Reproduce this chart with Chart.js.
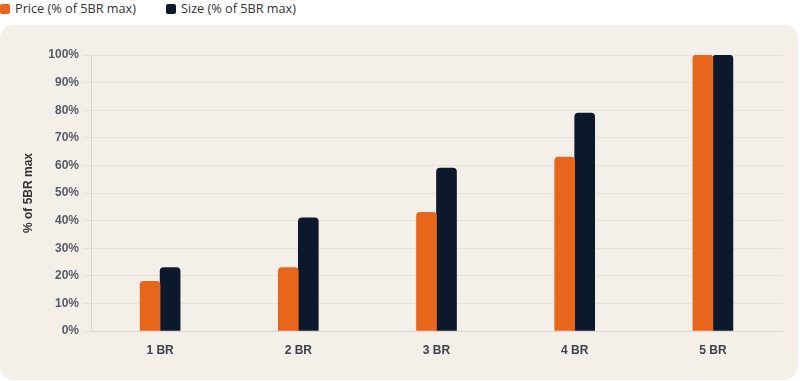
<!DOCTYPE html>
<html lang="en">

<head>
    <meta charset="UTF-8">
    <title>Price vs Size by bedrooms</title>
    <script src="https://cdn.jsdelivr.net/npm/chart.js"></script>
    <style>
        body {
            margin: 0;
            background: #ffffff;
            width: 800px;
            height: 381px;
            overflow: hidden;
            font-family: "Open Sans", sans-serif;
        }

        .legend {
            height: 25px;
            display: flex;
            align-items: flex-start;
        }

        .legend-item {
            display: flex;
            align-items: center;
            font-size: 12.7px;
            color: #333333;
            margin-right: 30px;
            line-height: 17px;
        }

        .legend-item span.box {
            width: 10px;
            height: 10px;
            border-radius: 2px;
            margin-right: 5px;
        }

        .card {
            position: absolute;
            left: 0;
            top: 25px;
            width: 798px;
            height: 355px;
            border-radius: 14px;
            background: #f4f0e9;
        }
    </style>
</head>

<body>
    <div class="legend" id="legend"></div>
    <div class="card">
        <canvas id="myChart" width="798" height="355"></canvas>
    </div>

    <script>
        var categories = ["1 BR", "2 BR", "3 BR", "4 BR", "5 BR"];
        var priceValues = [18, 23, 43, 63, 100];
        var sizeValues = [23, 41, 59, 79, 100];
        var seriesNames = ["Price (% of 5BR max)", "Size (% of 5BR max)"];
        var seriesColors = ["#e8651c", "#0c182b"];

        // legend sits above the card
        var legend = document.getElementById("legend");
        seriesNames.forEach(function (name, i) {
            var item = document.createElement("div");
            item.className = "legend-item";
            item.innerHTML = '<span class="box" style="background:' + seriesColors[i] + '"></span>' + name;
            legend.appendChild(item);
        });

        var tickFont = { family: "Liberation Sans", size: 12, weight: "bold" };

        var ctx = document.getElementById("myChart").getContext("2d");
        var chart = new Chart(ctx, {
            type: "bar",
            data: {
                labels: categories,
                datasets: [
                    {
                        label: seriesNames[0],
                        data: priceValues,
                        backgroundColor: seriesColors[0],
                        barThickness: 20,
                        borderRadius: 4
                    },
                    {
                        label: seriesNames[1],
                        data: sizeValues,
                        backgroundColor: seriesColors[1],
                        barThickness: 20,
                        borderRadius: 4
                    }
                ]
            },
            options: {
                responsive: false,
                animation: false,
                layout: {
                    padding: { top: 30, right: 16, bottom: 0, left: 0 }
                },
                plugins: {
                    legend: { display: false },
                    tooltip: { enabled: false }
                },
                scales: {
                    x: {
                        grid: { display: false, drawTicks: false },
                        border: { display: true, color: "#ddd6ca" },
                        ticks: { color: "#3d424c", font: tickFont, padding: 12 },
                        afterFit: function (scale) { scale.height = 49; }
                    },
                    y: {
                        min: 0,
                        max: 100,
                        ticks: {
                            stepSize: 10,
                            color: "#555b66",
                            font: tickFont,
                            padding: 4,
                            callback: function (v) { return v + "%"; }
                        },
                        grid: { color: "#e9e2d6", tickLength: 8 },
                        border: { display: true, color: "#ddd6ca" },
                        title: {
                            display: true,
                            text: "% of 5BR max",
                            color: "#333333",
                            font: { family: "Liberation Sans", size: 12, weight: "bold" },
                            padding: { top: 21, bottom: 0 }
                        },
                        afterFit: function (scale) { scale.width = 91; }
                    }
                }
            }
        });
    </script>
</body>

</html>
